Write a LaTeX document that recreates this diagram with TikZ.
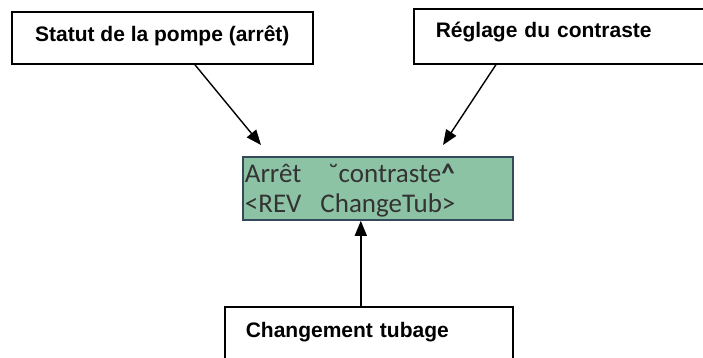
\documentclass[tikz,border=0pt]{standalone}
\usepackage{fontspec}
\setmainfont{Liberation Sans}
\newfontfamily\lcdfont{Carlito}
\usetikzlibrary{positioning, arrows.meta, calc}
\definecolor{LcdFill}{HTML}{8DC3A5}
\definecolor{LcdEdge}{HTML}{34495A}
\definecolor{LcdText}{HTML}{333333}
\tikzset{
  box/.style={draw, line width=1.6pt, anchor=north west, inner ysep=8pt, font=\fontsize{21}{25}\selectfont\bfseries},
  lcd/.style={draw=LcdEdge, fill=LcdFill, line width=1.8pt, anchor=north west, align=left, text=LcdText,
    inner xsep=1pt, inner ysep=3pt, minimum width=270pt, text width=266pt,
    text height=23pt, text depth=34pt, font=\fontsize{27}{30}\selectfont\lcdfont},
  arr/.style={-{Triangle[length=15pt,width=12pt]}, line width=1.4pt}
}
\begin{document}
\begin{tikzpicture}[x=1pt, y=-1pt]
  \useasboundingbox (0,0) rectangle (703,358);
  \clip (0,0) rectangle (703,358);

  \node[box, minimum width=301pt, text height=22pt, text depth=14pt] (statut) at (11,11) {Statut de la pompe (arrêt)};
  \node[box, minimum width=330pt, inner xsep=22pt, text width=286pt, align=left, text height=21pt, text depth=18pt] (reglage) at (413,8) {Réglage du contraste};
  \node[lcd] (ecran) at (242,156) {Arrêt\hspace{27pt}˘contraste\textbf{\char`\^}\\<REV\hspace{19pt}ChangeTub>};
  \node[box, minimum width=288pt, inner xsep=21pt, text width=246pt, align=left, text height=23pt, text depth=17pt] (tubage) at (224,306) {Changement tubage};

  \coordinate (tipA) at ([shift={(19,-11)}]ecran.north west);
  \coordinate (tipB) at ([shift={(201,-11)}]ecran.north west);

  \draw[arr] ([xshift=32.5pt]statut.south) -- (tipA);
  \draw[arr] ([xshift=83pt]reglage.south west) -- (tipB);
  \draw[arr] ([xshift=-8pt]tubage.north) -- ([xshift=-8pt]tubage.north |- ecran.south);
\end{tikzpicture}
\end{document}
